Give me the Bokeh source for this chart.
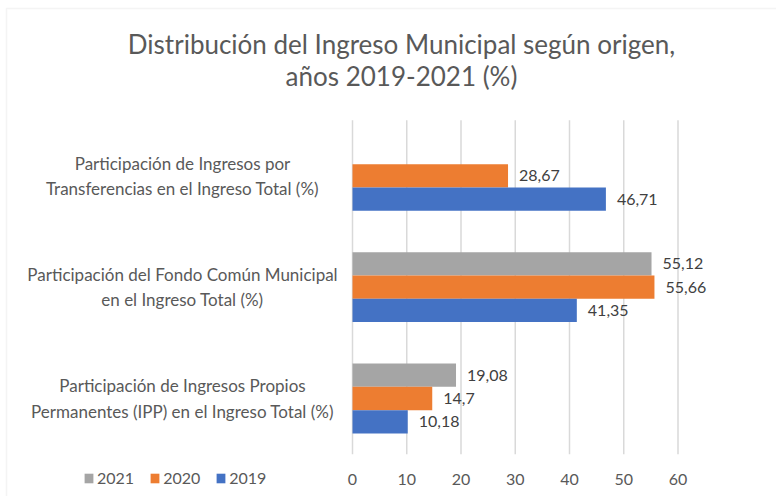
from bokeh.plotting import figure
from bokeh.models import (Range1d, FixedTicker, ColumnDataSource, Legend,
                          LegendItem, Label, BoxAnnotation)
from bokeh.core.properties import value
from bokeh.embed import file_html
from bokeh.resources import INLINE

# ---------------- data ----------------
title_lines = ["Distribución del Ingreso Municipal según origen,",
               "años 2019-2021 (%)"]
categories = [
    "Participación de Ingresos Propios\nPermanentes (IPP) en el Ingreso Total (%)",
    "Participación del Fondo Común Municipal\nen el Ingreso Total (%)",
    "Participación de Ingresos por\nTransferencias en el Ingreso Total (%)",
]
years = ["2021", "2020", "2019"]
v2021 = [19.08, 55.12, None]
v2020 = [14.7, 55.66, 28.67]
v2019 = [10.18, 41.35, 46.71]
x_ticks = [0, 10, 20, 30, 40, 50, 60]

# ---------------- style / layout ----------------
series = {"2021": v2021, "2020": v2020, "2019": v2019}
colors = {"2021": "#A5A5A5", "2020": "#ED7D31", "2019": "#4472C4"}
bar_h = 0.209
offsets = {"2021": bar_h, "2020": 0.0, "2019": -bar_h}

FONT = "Lato"
W, H = 776, 496
px_x = 5.425          # pixels per x unit
zero_px = 352         # screen x of value 0
px_y = 111.3          # pixels per category band
cat0_py = 398         # screen y (from top) of first category centre

x_start = -zero_px / px_x
x_end = x_start + W / px_x
y_start = -(H - cat0_py) / px_y
y_end = y_start + H / px_y

p = figure(width=W, height=H, output_backend="svg", toolbar_location=None,
           x_range=Range1d(x_start, x_end), y_range=Range1d(y_start, y_end),
           y_axis_location=None,
           min_border_left=0, min_border_right=0,
           min_border_top=0, min_border_bottom=0)
p.outline_line_color = None
p.background_fill_color = "white"
p.border_fill_color = "white"
p.xgrid.grid_line_color = None
p.ygrid.grid_line_color = None

cat_idx = list(range(len(categories)))
plot_bottom = -0.5
plot_top = len(categories) - 0.5

# chart border (left and top edges visible)
p.add_layout(BoxAnnotation(left=6, right=W + 20, top=H - 8, bottom=-20,
                           left_units="screen", right_units="screen",
                           top_units="screen", bottom_units="screen",
                           fill_alpha=0, line_color="#D9D9D9", line_width=1.5))

# vertical gridlines from the tick values
p.segment(x0=x_ticks, y0=[plot_bottom] * len(x_ticks),
          x1=x_ticks, y1=[plot_top] * len(x_ticks),
          line_color="#D9D9D9", line_width=1.5)

# x axis fixed at the bottom of the plot area
p.xaxis.fixed_location = plot_bottom
p.xaxis.ticker = FixedTicker(ticks=x_ticks)
p.xaxis.axis_line_color = None
p.xaxis.major_tick_line_color = None
p.xaxis.minor_tick_line_color = None
p.xaxis.major_label_standoff = 14
p.xaxis.major_label_text_font = FONT
p.xaxis.major_label_text_font_size = "16px"
p.xaxis.major_label_text_color = "#595959"

# bars and value labels
legend_items = []
for yr in years:
    vals = series[yr]
    ys = [i + offsets[yr] for i, v in zip(cat_idx, vals) if v is not None]
    vv = [v for v in vals if v is not None]
    labels = [f"{v:g}".replace(".", ",") for v in vv]
    src = ColumnDataSource(dict(y=ys, val=vv, lab=labels))
    r = p.hbar(y="y", left=0, right="val", height=bar_h, source=src,
               fill_color=colors[yr], line_color=None)
    p.text(x="val", y="y", text="lab", source=src, x_offset=11,
           text_align="left", text_baseline="middle",
           text_font=value(FONT), text_font_size="16px", text_color="#404040")
    legend_items.append(LegendItem(label=yr, renderers=[r]))

# category labels
cat_src = ColumnDataSource(dict(y=cat_idx, cat=categories,
                                x=[0] * len(categories)))
p.text(x="x", y="y", text="cat", source=cat_src, x_offset=-170,
       text_align="center", text_baseline="middle",
       text_font=value(FONT), text_font_size="17px", text_color="#595959",
       text_line_height=1.2)

# title (two centred lines)
for txt, base in zip(title_lines, [43, 75]):
    p.add_layout(Label(x=401, y=H - base, x_units="screen", y_units="screen",
                       text=txt, text_align="center",
                       text_baseline="alphabetic", text_font=FONT,
                       text_font_size="26px", text_color="#595959"))

legend = Legend(items=legend_items, orientation="horizontal",
                location=(83, 9))
legend.glyph_width = 11
legend.glyph_height = 12
legend.label_standoff = 3
legend.spacing = 15
legend.padding = 0
legend.margin = 0
legend.border_line_color = None
legend.background_fill_alpha = 0
legend.label_text_font = FONT
legend.label_text_font_size = "16px"
legend.label_text_color = "#595959"
p.add_layout(legend, "center")

open("out.html", "w").write(file_html(p, INLINE))
